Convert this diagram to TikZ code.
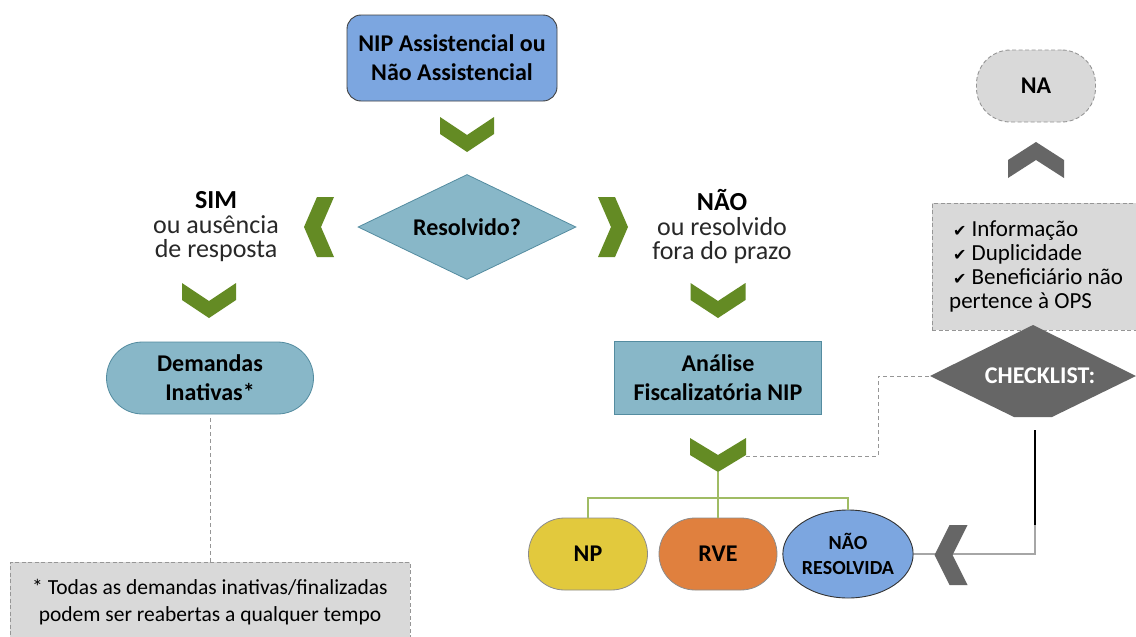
\documentclass[tikz,border=0pt]{standalone}
\usepackage{fontspec}
\setmainfont{Carlito}
\newfontfamily\symfont{DejaVu Sans}
\usetikzlibrary{shapes.geometric,calc}
\definecolor{nipblue}{RGB}{124,166,224}
\definecolor{teal}{RGB}{136,183,200}
\definecolor{tealdark}{RGB}{84,140,160}
\definecolor{npyellow}{RGB}{226,201,61}
\definecolor{rveorange}{RGB}{224,128,62}
\definecolor{chgreen}{RGB}{100,139,36}
\definecolor{treegreen}{RGB}{160,188,100}
\definecolor{lightgray}{RGB}{217,217,217}
\definecolor{dashgray}{RGB}{150,150,150}
\definecolor{darkgray}{RGB}{102,102,102}
\definecolor{txtgray}{RGB}{40,40,40}
\newcommand{\chevron}[7]{%
  \fill[#7,shift={(#1,#2)},rotate=#3] (-#4/2,-#5/2) -- (0,-#5/2+#5-#6) -- (#4/2,-#5/2) -- (#4/2,-#5/2+#6) -- (0,#5/2) -- (-#4/2,-#5/2+#6) -- cycle;}
\newcommand{\chk}{{\symfont\fontsize{16}{24}\selectfont ✔}}
\tikzset{
  lbl/.style={font=\fontsize{24}{29}\selectfont\bfseries, align=center, text=black},
  plain/.style={font=\fontsize{26}{24.5}\selectfont, align=center, text=txtgray},
  pill/.style={rounded corners=36pt, minimum height=72pt, inner sep=0pt},
  tealbox/.style={fill=teal, draw=tealdark, line width=0.8pt},
  graybox/.style={fill=lightgray, draw=dashgray, dash pattern=on 4pt off 2.5pt, line width=0.9pt},
  treeline/.style={draw=treegreen, line width=1.2pt},
  dashline/.style={draw=dashgray, dash pattern=on 4pt off 3pt, line width=1pt},
  grayline/.style={draw=gray!70, line width=1.2pt}
}
\begin{document}
\begin{tikzpicture}[x=1pt,y=-1pt]
\path[use as bounding box, fill=white] (0,0) rectangle (1136,637);

% top box
\node[lbl, fill=nipblue, draw=black!75, line width=0.9pt, rounded corners=14pt,
      minimum width=210pt, minimum height=86pt, inner sep=0pt] (nip) at (452,58)
      {NIP Assistencial ou\\Não Assistencial};
\chevron{467}{134.5}{0}{54}{35}{17}{chgreen}

% decision
\node[lbl, tealbox, diamond, aspect=2, minimum width=218pt, minimum height=105pt, inner sep=0pt]
      (res) at (467,227) {Resolvido?};
\chevron{319}{227}{-90}{60}{30}{17}{chgreen}
\chevron{613}{227}{90}{60}{30}{17}{chgreen}

% SIM branch
\node[plain] (sim) at (216,227) {\textbf{\color{black}SIM}\\ou ausência\\de resposta};
\chevron{209}{300.5}{0}{54}{35}{17}{chgreen}
\node[lbl, tealbox, pill, minimum width=207pt] (dem) at (210,378) {Demandas\\Inativas*};
\node[graybox, minimum width=400pt, minimum height=80pt, inner sep=0pt,
      font=\fontsize{21.5}{27}\selectfont, align=center, text=black] (foot) at (210,602)
      {* Todas as demandas inativas/finalizadas\\podem ser reabertas a qualquer tempo};
\draw[dashline] (dem.south) ++(0,4) -- (foot.north);

% NAO branch
\node[plain] (nao) at (722,227) {\textbf{\color{black}NÃO}\\ou resolvido\\fora do prazo};
\chevron{718}{300.5}{0}{55}{35}{17}{chgreen}
\node[lbl, tealbox, minimum width=207pt, minimum height=73pt, inner sep=0pt] (ana) at (718,378)
      {Análise\\Fiscalizatória NIP};
\chevron{718}{455}{0}{56}{34}{17}{chgreen}
\coordinate (c3bot) at (718,472);
\coordinate (c3right) at (746,456);
\coordinate (br) at (718,498);

% results
\node[lbl, pill, fill=npyellow, draw=black!45, line width=0.8pt, minimum width=119pt] (np) at (588,554) {NP};
\node[lbl, pill, fill=rveorange, draw=black!45, line width=0.8pt, minimum width=118pt] (rve) at (718,554) {RVE};
\node[ellipse, fill=nipblue, draw=black!80, line width=0.9pt, minimum width=129pt, minimum height=88pt,
      inner sep=0pt, font=\fontsize{20}{25}\selectfont\bfseries, align=center] (nr) at (848,554) {NÃO\\RESOLVIDA};
\draw[treeline] (c3bot) -- (br);
\draw[treeline] (br) -| (np.north);
\draw[treeline] (br) -- (rve.north);
\draw[treeline] (br) -| (nr.north);

% checklist side
\node[graybox, minimum width=119pt, minimum height=72pt, rounded corners=34pt,
      font=\fontsize{24}{24}\selectfont\bfseries, text=black] (na) at (1036,86) {NA};
\chevron{1036}{160}{180}{56}{36}{18}{darkgray}
\node[graybox, minimum width=206pt, minimum height=127pt, inner sep=0pt] (list) at (1035,266.5) {};
\node[font=\fontsize{23}{24}\selectfont, align=left, anchor=north west, inner sep=0pt, text=black]
      (listtxt) at (949,221)
      {\,\chk\ Informação\\
       \,\chk\ Duplicidade\\
       \,\chk\ Beneficiário não\\
       pertence à OPS};
\fill[darkgray] (930,376) -- (1033,325) -- (1136,376) -- (1052,417) -- (1014,417) -- cycle;
\node[font=\fontsize{24}{24}\selectfont\bfseries, text=white, inner sep=0pt] (chklabel) at (1040,376) {CHECKLIST:};
\coordinate (chkwest) at (930,376);
\coordinate (chkbot) at (1035,430);
\draw[dashline] (c3right) -| (878,376) -- (chkwest);
\draw[grayline] (chkbot) |- (nr.east);
\draw[black, line width=1.2pt] (chkbot) -- (1035,525);
\chevron{951}{555}{-90}{60}{33}{18}{darkgray}
\end{tikzpicture}
\end{document}
